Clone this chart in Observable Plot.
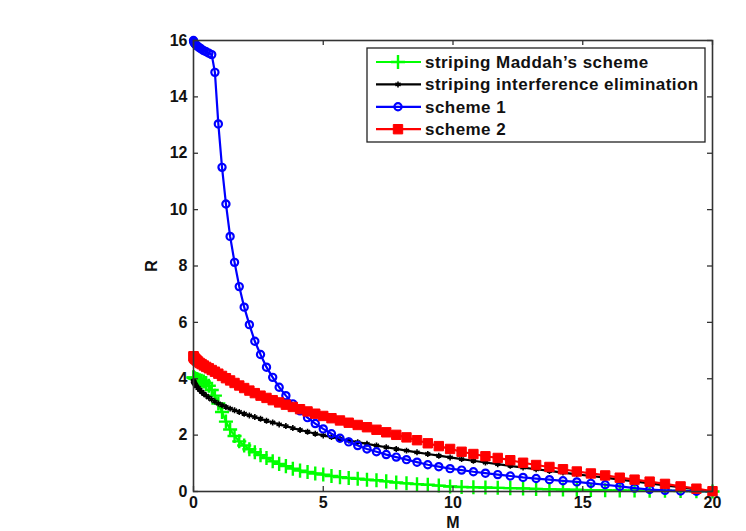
<!DOCTYPE html>
<html><head><meta charset="utf-8">
<script src="https://cdn.jsdelivr.net/npm/d3@7"></script>
<script src="https://cdn.jsdelivr.net/npm/@observablehq/plot@0.6"></script>
<style>
html,body{margin:0;padding:0;background:#fff;}
#chart{width:746px;height:531px;overflow:hidden;}
</style></head><body><div id="chart"></div>
<script>
// memory values (x)
const M = [0, 0.005, 0.02, 0.044, 0.078, 0.122, 0.176, 0.239, 0.313, 0.396,
  0.488, 0.591, 0.703, 0.825, 0.957, 1.099, 1.25, 1.411, 1.582, 1.763,
  1.953, 2.153, 2.363, 2.583, 2.813, 3.052, 3.301, 3.56, 3.828, 4.106,
  4.395, 4.692, 5.0, 5.317, 5.645, 5.981, 6.328, 6.685, 7.051, 7.427,
  7.813, 8.208, 8.613, 9.028, 9.453, 9.888, 10.332, 10.786, 11.25, 11.724,
  12.207, 12.7, 13.203, 13.716, 14.238, 14.771, 15.313, 15.864, 16.426, 16.997,
  17.578, 18.169, 18.77, 19.38, 20];
// striping Maddah's scheme
const greenR = [4.05, 4.04, 4.03, 4.02, 4.0, 3.99, 3.97, 3.95, 3.93, 3.9,
  3.85, 3.75, 3.6, 3.4, 3.12, 2.82, 2.48, 2.2, 1.97, 1.78,
  1.63, 1.5, 1.39, 1.29, 1.19, 1.07, 0.98, 0.9, 0.81, 0.74,
  0.69, 0.64, 0.6, 0.55, 0.51, 0.48, 0.45, 0.42, 0.4, 0.36,
  0.32, 0.29, 0.26, 0.24, 0.21, 0.18, 0.16, 0.15, 0.14, 0.13,
  0.12, 0.11, 0.09, 0.08, 0.07, 0.06, 0.05, 0.045, 0.04, 0.035,
  0.03, 0.025, 0.02, 0.01, 0];
// striping interference elimination
const blackR = [3.92, 3.9, 3.87, 3.83, 3.78, 3.73, 3.67, 3.61, 3.54, 3.47,
  3.4, 3.33, 3.26, 3.19, 3.12, 3.06, 3.0, 2.94, 2.88, 2.82,
  2.76, 2.7, 2.64, 2.58, 2.51, 2.45, 2.38, 2.32, 2.25, 2.18,
  2.12, 2.05, 1.99, 1.93, 1.87, 1.81, 1.75, 1.69, 1.63, 1.57,
  1.51, 1.45, 1.39, 1.33, 1.27, 1.21, 1.15, 1.09, 1.03, 0.97,
  0.91, 0.85, 0.79, 0.73, 0.67, 0.61, 0.55, 0.49, 0.42, 0.36,
  0.29, 0.22, 0.15, 0.07, 0];
// scheme 1
const blueR = [16.0, 15.97, 15.93, 15.9, 15.86, 15.82, 15.78, 15.74, 15.69, 15.64,
  15.6, 15.55, 15.5, 14.87, 13.04, 11.5, 10.2, 9.05, 8.13, 7.27,
  6.54, 5.92, 5.33, 4.86, 4.41, 4.05, 3.7, 3.4, 3.11, 2.86,
  2.62, 2.41, 2.22, 2.05, 1.89, 1.76, 1.63, 1.51, 1.41, 1.31,
  1.22, 1.13, 1.04, 0.95, 0.88, 0.81, 0.76, 0.7, 0.65, 0.6,
  0.55, 0.5, 0.46, 0.42, 0.38, 0.34, 0.29, 0.24, 0.18, 0.12,
  0.07, 0.04, 0.02, 0.01, 0];
// scheme 2
const redR = [4.8, 4.78, 4.75, 4.72, 4.69, 4.65, 4.61, 4.56, 4.52, 4.47,
  4.42, 4.37, 4.31, 4.25, 4.18, 4.1, 4.02, 3.94, 3.85, 3.76,
  3.67, 3.58, 3.49, 3.4, 3.32, 3.24, 3.16, 3.08, 3.0, 2.92,
  2.84, 2.76, 2.68, 2.6, 2.52, 2.44, 2.36, 2.28, 2.19, 2.1,
  2.01, 1.92, 1.82, 1.71, 1.61, 1.51, 1.41, 1.33, 1.25, 1.19,
  1.11, 1.02, 0.94, 0.87, 0.79, 0.71, 0.64, 0.57, 0.49, 0.42,
  0.35, 0.27, 0.18, 0.1, 0.01];

const seriesNames = ["striping Maddah\u2019s scheme", "striping interference elimination", "scheme 1", "scheme 2"];
const seriesColors = ["#00ff00", "#000000", "#0000ff", "#ff0000"];
const xTicks = [0, 5, 10, 15, 20];
const yTicks = [0, 2, 4, 6, 8, 10, 12, 14, 16];

const allR = [greenR, blackR, blueR, redR];
const series = allR.map((arr, s) => arr.map((r, i) => ({series: seriesNames[s], M: M[i], R: r})));

const W = 746, H = 531;
const mL = 193, mR = 34, mT = 40, mB = 40;
const pw = W - mL - mR, ph = H - mT - mB;
const FONT = "'Liberation Sans', Arial, Helvetica, sans-serif";

const markerStyle = [
  {symbol: "plus", r: 4.6, stroke: seriesColors[0], strokeWidth: 2.4, fill: "none"},
  {symbol: "asterisk", r: 2.8, stroke: seriesColors[1], strokeWidth: 1.6, fill: "none"},
  {symbol: "circle", r: 3.6, stroke: seriesColors[2], strokeWidth: 2.2, fill: "none"},
  {symbol: "square", r: 5.3, stroke: seriesColors[3], strokeWidth: 1, fill: seriesColors[3]}
];

const marks = [];
series.forEach((data, s) => {
  marks.push(Plot.line(data, {x: "M", y: "R", stroke: seriesColors[s], strokeWidth: 2.2}));
  marks.push(Plot.dot(data, {x: "M", y: "R", ...markerStyle[s]}));
});

const chart = Plot.plot({
  width: W, height: H,
  marginLeft: mL, marginRight: mR, marginTop: mT, marginBottom: mB,
  style: {fontFamily: FONT, fontSize: "16px", fontWeight: "bold", color: "#111", background: "#fff"},
  x: {domain: [0, 20]},
  y: {domain: [0, 16]},
  marks: [
    ...marks,
    Plot.tickX(xTicks, {x: d => d, insetTop: ph - 5, stroke: "#333", strokeWidth: 1.3}),
    Plot.tickX(xTicks, {x: d => d, insetBottom: ph - 5, stroke: "#333", strokeWidth: 1.3}),
    Plot.tickY(yTicks, {y: d => d, insetRight: pw - 5, stroke: "#333", strokeWidth: 1.3}),
    Plot.tickY(yTicks, {y: d => d, insetLeft: pw - 5, stroke: "#333", strokeWidth: 1.3}),
    Plot.frame({stroke: "#333", strokeWidth: 1.6}),
    Plot.axisX(xTicks, {anchor: "bottom", tickSize: 0, tickPadding: 5, label: "M", labelAnchor: "center", labelOffset: 36, labelArrow: "none"}),
    Plot.axisY(yTicks, {anchor: "left", tickSize: 0, tickPadding: 6, label: "R", labelAnchor: "center", labelOffset: 48, labelArrow: "none"})
  ]
});

// legend inside the plot
const lg = d3.select(chart).append("g").attr("class", "legend").attr("text-anchor", "start");
const bx = 367, by = 48, bw = 338, bh = 94;
lg.append("rect").attr("x", bx).attr("y", by).attr("width", bw).attr("height", bh)
  .attr("fill", "#fff").attr("stroke", "#222").attr("stroke-width", 1.3);
const symMap = {plus: d3.symbolPlus, asterisk: d3.symbolAsterisk, circle: d3.symbolCircle, square: d3.symbolSquare};
seriesNames.forEach((name, k) => {
  const yy = 62 + k * 22.4;
  const g = lg.append("g");
  g.append("line").attr("x1", 376).attr("x2", 421).attr("y1", yy).attr("y2", yy)
    .attr("stroke", seriesColors[k]).attr("stroke-width", 2.2);
  const st = markerStyle[k];
  g.append("path").attr("transform", `translate(398,${yy})`)
    .attr("d", d3.symbol(symMap[st.symbol], st.r * st.r * Math.PI)())
    .attr("stroke", st.stroke).attr("stroke-width", st.strokeWidth).attr("fill", st.fill);
  g.append("text").attr("x", 425).attr("y", yy).attr("dy", "0.35em")
    .attr("text-anchor", "start")
    .attr("font-family", FONT).attr("font-size", 17).attr("font-weight", "bold")
    .attr("letter-spacing", "0.45px")
    .attr("fill", "#111").text(name);
});

document.getElementById("chart").appendChild(chart);
</script></body></html>
